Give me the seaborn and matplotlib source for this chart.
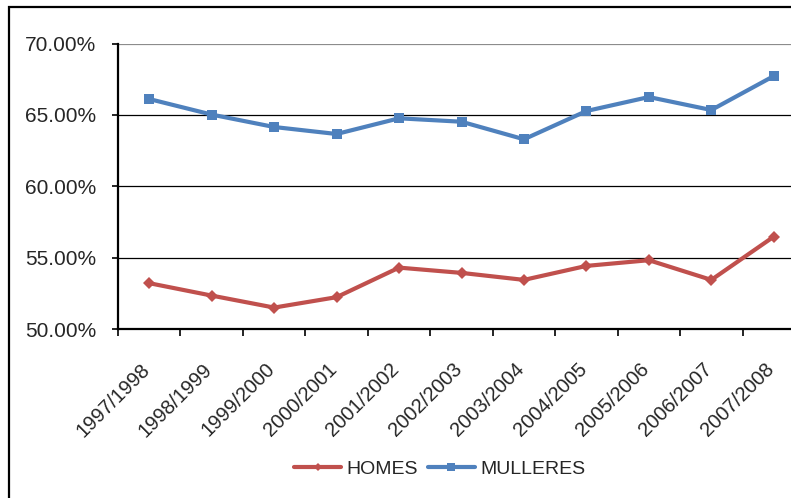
import matplotlib
matplotlib.use("Agg")
import matplotlib.pyplot as plt
from matplotlib.patches import Rectangle
from matplotlib.lines import Line2D
from matplotlib.ticker import FuncFormatter, FixedLocator
import seaborn as sns
import pandas as pd

# data
cursos = ["1997/1998", "1998/1999", "1999/2000", "2000/2001", "2001/2002",
          "2002/2003", "2003/2004", "2004/2005", "2005/2006", "2006/2007", "2007/2008"]
homes = [53.21, 52.34, 51.50, 52.23, 54.30, 53.93, 53.44, 54.42, 54.82, 53.44, 56.47]
mulleres = [66.11, 65.02, 64.15, 63.66, 64.76, 64.52, 63.29, 65.27, 66.25, 65.34, 67.72]

df = pd.DataFrame({
    "curso": cursos * 2,
    "valor": homes + mulleres,
    "serie": ["HOMES"] * len(cursos) + ["MULLERES"] * len(cursos),
})

sns.set_style("white")
plt.rcParams["font.family"] = ["Liberation Sans", "DejaVu Sans"]

fig = plt.figure(figsize=(7.91, 4.98), dpi=100)
ax = fig.add_axes([118 / 791, 1 - 329 / 498, 687 / 791, (329 - 43.5) / 498])

# gridlines (top one is gray like the original)
for v in [55, 60, 65]:
    ax.axhline(v, color="black", lw=0.9, zorder=1)
ax.axhline(70, color="#8c8c8c", lw=1.6, zorder=1)

sns.lineplot(data=df, x="curso", y="valor", hue="serie", style="serie",
             palette={"HOMES": "#C0504D", "MULLERES": "#4F81BD"},
             markers={"HOMES": "D", "MULLERES": "s"}, dashes=False,
             linewidth=3, markersize=6.5, markeredgewidth=0, ax=ax, zorder=3,
             legend=False)

ax.set_xlim(-0.5, len(cursos) - 0.5)
ax.set_ylim(50, 70)
ax.set_yticks([50, 55, 60, 65, 70])
ax.yaxis.set_major_formatter(FuncFormatter(lambda v, p: "%.2f%%" % v))
# label ticks sit a touch right of the category centre, like Excel places them
ax.set_xticks([i + 0.065 for i in range(len(cursos))])
ax.set_xticklabels(cursos, rotation=45, ha="right", fontsize=14.5)
ax.xaxis.set_minor_locator(FixedLocator([i - 0.5 for i in range(len(cursos) + 1)]))
ax.tick_params(axis="x", which="major", length=0, pad=22)
ax.tick_params(axis="x", which="minor", length=5, width=1.2, color="black", bottom=True)
ax.tick_params(axis="y", which="major", length=4.5, width=1.2, color="black", pad=11,
               labelsize=15, left=True)
ax.set_xlabel("")
ax.set_ylabel("")

for s in ["top", "right"]:
    ax.spines[s].set_visible(False)
for s in ["left", "bottom"]:
    ax.spines[s].set_color("black")
    ax.spines[s].set_linewidth(1.6)
    ax.spines[s].set_zorder(4)

# legend at the bottom
handles = [Line2D([], [], color="#C0504D", lw=3, marker="D", markersize=4.5, markeredgewidth=0),
           Line2D([], [], color="#4F81BD", lw=3, marker="s", markersize=5.5, markeredgewidth=0)]
fig.legend(handles, ["HOMES", "MULLERES"], loc="center", bbox_to_anchor=(440 / 791, 1 - 469 / 498),
           ncol=2, frameon=False, fontsize=14, handlelength=2.4, handletextpad=0.3,
           columnspacing=0.5)

# outer chart border (only left and top are visible in the crop)
fig.add_artist(Rectangle((9 / 791, -0.2), 1.5, 1.2 - 6.5 / 498, transform=fig.transFigure,
                         fill=False, edgecolor="black", lw=1.6))

fig.savefig("out.png", dpi=100)
